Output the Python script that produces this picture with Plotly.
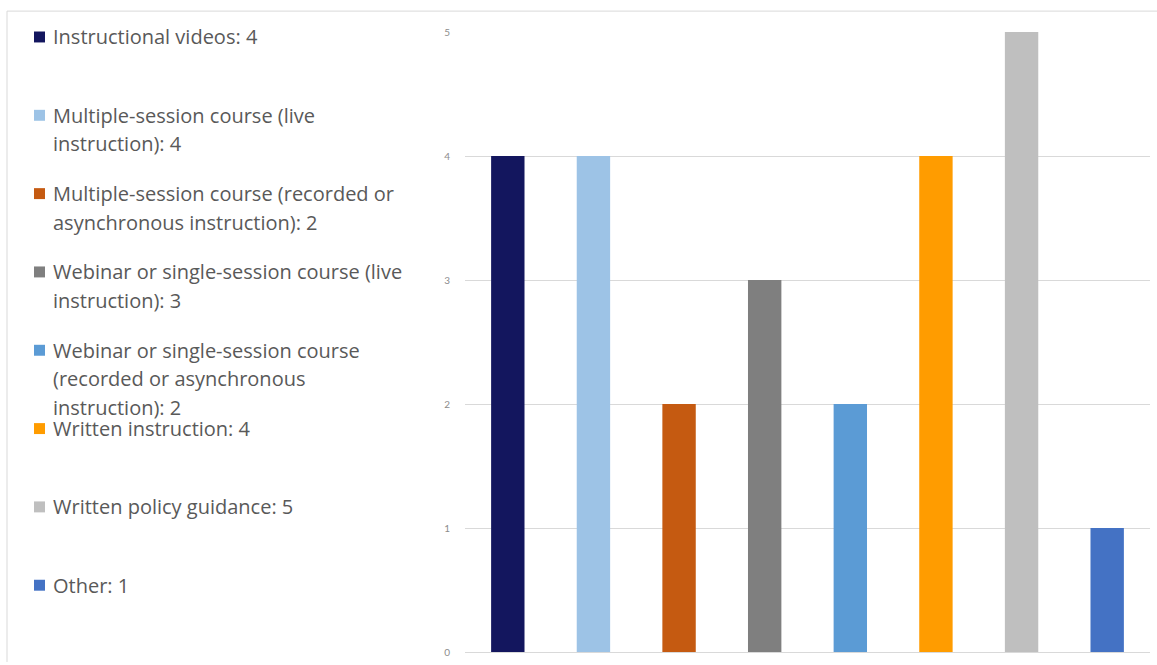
import plotly.graph_objects as go

# ---- data ----
categories = [
    "Instructional videos",
    "Multiple-session course (live instruction)",
    "Multiple-session course (recorded or asynchronous instruction)",
    "Webinar or single-session course (live instruction)",
    "Webinar or single-session course (recorded or asynchronous instruction)",
    "Written instruction",
    "Written policy guidance",
    "Other",
]
values = [4, 4, 2, 3, 2, 4, 5, 1]
legend_lines = [
    ["Instructional videos: 4"],
    ["Multiple-session course (live", "instruction): 4"],
    ["Multiple-session course (recorded or", "asynchronous instruction): 2"],
    ["Webinar or single-session course (live", "instruction): 3"],
    ["Webinar or single-session course", "(recorded or asynchronous", "instruction): 2"],
    ["Written instruction: 4"],
    ["Written policy guidance: 5"],
    ["Other: 1"],
]
colors = ["#13165E", "#9DC3E6", "#C55A11", "#7F7F7F", "#5B9BD5", "#FF9C00", "#BFBFBF", "#4472C4"]
y_ticks = [0, 1, 2, 3, 4, 5]

# ---- layout geometry (pixels) ----
W, H = 1157, 665
L, R, T, B = 465, 1150, 32, 655


def px(x):
    return (x - L) / (R - L)


def py(y):
    return (B - y) / (B - T)


fig = go.Figure()
fig.add_trace(go.Bar(
    x=categories, y=values, marker=dict(color=colors, line=dict(width=0)),
    showlegend=False, hoverinfo="x+y",
))

annotations = []
shapes = []
item_y0 = 37
item_step = 78.7
line_step = 28.6
for i, lines in enumerate(legend_lines):
    yc = item_y0 + i * item_step
    shapes.append(dict(type="rect", xref="paper", yref="paper",
                       x0=px(34), x1=px(45), y0=py(yc - 5.5), y1=py(yc + 5.5),
                       fillcolor=colors[i], line=dict(width=0)))
    for j, ln in enumerate(lines):
        annotations.append(dict(
            text=ln, xref="paper", yref="paper", x=px(51), y=py(yc + j * line_step),
            xanchor="left", yanchor="middle", showarrow=False,
            font=dict(family="Open Sans", size=20, color="#595959"),
        ))

# outer border (top and left)
shapes.append(dict(type="line", xref="paper", yref="paper",
                   x0=px(7), x1=px(W), y0=py(11), y1=py(11),
                   line=dict(color="#D9D9D9", width=1)))
shapes.append(dict(type="line", xref="paper", yref="paper",
                   x0=px(7), x1=px(7), y0=py(11), y1=py(H),
                   line=dict(color="#D9D9D9", width=1)))

fig.update_layout(
    width=W, height=H,
    margin=dict(l=L, r=W - R, t=T, b=H - B),
    paper_bgcolor="white", plot_bgcolor="white",
    bargap=0.61,
    xaxis=dict(showticklabels=False, showgrid=False, zeroline=False, showline=False,
               ticks=""),
    yaxis=dict(range=[0, 5], tickvals=y_ticks, showgrid=True, gridcolor="#D9D9D9",
               gridwidth=1, zeroline=True, zerolinecolor="#D9D9D9", zerolinewidth=1,
               showline=False, ticks="outside", ticklen=12, tickcolor="white",
               tickfont=dict(family="Lato", size=10, color="#8C8C8C")),
    annotations=annotations,
    shapes=shapes,
)

fig.write_html("out.html")
